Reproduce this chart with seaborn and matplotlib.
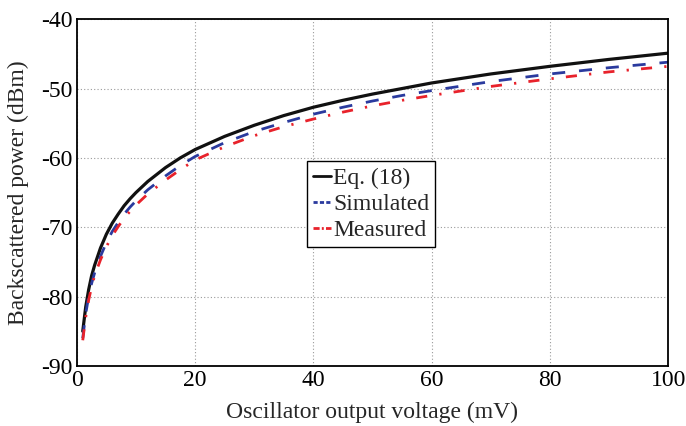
import numpy as np
import pandas as pd
import matplotlib
matplotlib.use("Agg")
import matplotlib.pyplot as plt
import seaborn as sns

voltage = [1, 1.5, 2, 2.5, 3, 4, 5, 6, 7, 8, 9, 10, 12, 15, 17.5, 20, 25, 30, 35, 40, 45,
           50, 55, 60, 70, 80, 90, 100]
eq18 = [-85.0, -81.5, -79.0, -77.0, -75.5, -73.0, -71.0, -69.4, -68.1, -66.9, -65.9, -65.0,
        -63.4, -61.4, -60.0, -58.8, -56.9, -55.3, -53.9, -52.7, -51.7, -50.8, -50.0, -49.2,
        -47.9, -46.8, -45.8, -44.9]
simulated = [-86.0, -82.5, -80.0, -78.1, -76.6, -74.2, -72.2, -70.6, -69.3, -68.1, -67.1, -66.2,
             -64.6, -62.6, -61.1, -59.8, -57.8, -56.2, -54.9, -53.7, -52.7, -51.8, -51.0, -50.3,
             -49.0, -47.9, -47.0, -46.2]
measured = [-86.3, -83.0, -80.5, -78.6, -77.0, -74.7, -72.8, -71.2, -69.9, -68.7, -67.7, -66.8,
            -65.2, -63.2, -61.7, -60.3, -58.4, -56.8, -55.5, -54.4, -53.4, -52.5, -51.7, -51.0,
            -49.7, -48.6, -47.6, -46.8]
series_names = ["Eq. (18)", "Simulated", "Measured"]

sns.set_theme(style="white")
plt.rcParams['font.family'] = ['Liberation Serif', 'DejaVu Serif']
plt.rcParams['axes.unicode_minus'] = False

n = len(voltage)
df = pd.DataFrame({
    "V": voltage * 3,
    "P": eq18 + simulated + measured,
    "series": [series_names[0]] * n + [series_names[1]] * n + [series_names[2]] * n,
})

fig = plt.figure(figsize=(6.86, 4.26), dpi=100)
ax = fig.add_axes([0.112, 0.141, 0.862, 0.814])

styles = {
    "Eq. (18)": dict(color="#111111", linestyle="-", linewidth=2.3),
    "Simulated": dict(color="#2a3a9e", linestyle=(0, (4.7, 5.0)), linewidth=2.0),
    "Measured": dict(color="#e8222b", linestyle=(0, (4.0, 4.4, 0.8, 4.4)), linewidth=2.0),
}
for name in series_names:
    sub = df[df["series"] == name]
    sns.lineplot(data=sub, x="V", y="P", ax=ax, label=name, **styles[name])

ax.set_xlim(0, 100)
ax.set_ylim(-90, -40)
ax.set_xticks([0, 20, 40, 60, 80, 100])
ax.set_yticks([-90, -80, -70, -60, -50, -40])
ax.grid(True, color="#9a9a9a", linestyle=(0, (1, 2)), linewidth=0.8)
for s in ax.spines.values():
    s.set_color("black")
    s.set_linewidth(1.3)
ax.tick_params(direction="in", length=4, width=1, labelsize=17, colors="black", pad=3)
ax.set_xlabel("Oscillator output voltage (mV)", fontsize=17, labelpad=8)
ax.set_ylabel("Backscattered power (dBm)", fontsize=17, labelpad=9)

leg = ax.legend(loc="upper left", bbox_to_anchor=(0.39, 0.59), borderaxespad=0,
                fontsize=17, frameon=True, fancybox=False, shadow=False,
                handlelength=0.75, handletextpad=0.1, labelspacing=0.2,
                borderpad=0.25)
leg.get_frame().set_edgecolor("black")
leg.get_frame().set_linewidth(1.0)
leg.get_frame().set_alpha(1)
for h in leg.get_lines():
    h.set_linewidth(2.0)
leg.get_lines()[1].set_linestyle((0, (1.5, 0.8)))
leg.get_lines()[2].set_linestyle((0, (2.2, 0.8, 0.7, 0.8)))

fig.savefig("out.png", dpi=100)
